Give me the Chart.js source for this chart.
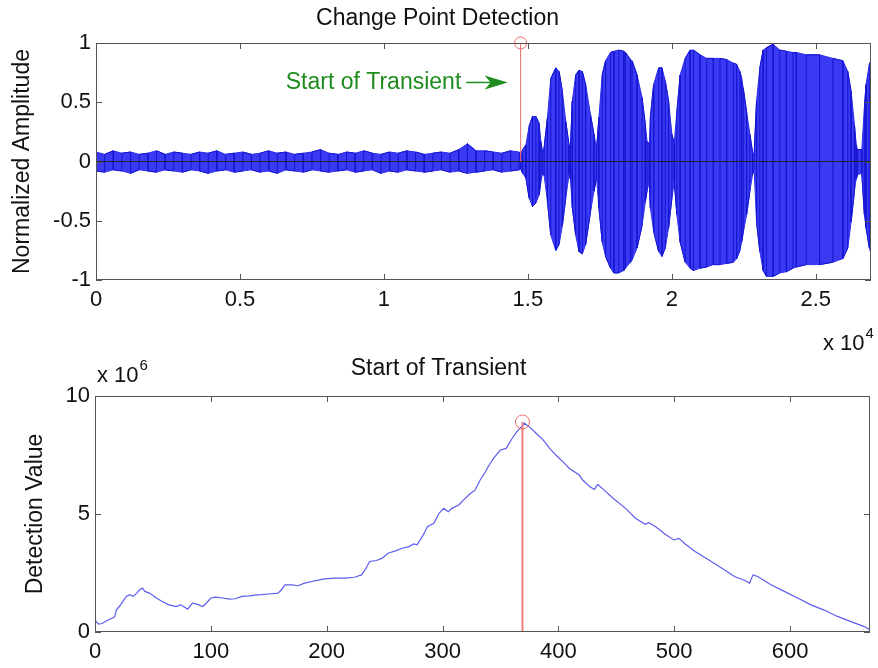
<!DOCTYPE html>
<html>
<head>
<meta charset="utf-8">
<script src="https://cdn.jsdelivr.net/npm/chart.js@4.4.1/dist/chart.umd.min.js"></script>
<style>
  html, body { margin: 0; padding: 0; background: #fff; }
  #wrap { position: relative; width: 878px; height: 668px; overflow: hidden; }
  canvas { position: absolute; left: 0; }
  #top { top: 0; }
  #bottom { top: 350px; }
</style>
</head>
<body>
<div id="wrap">
  <canvas id="top" width="878" height="360" style="width:878px;height:360px"></canvas>
  <canvas id="bottom" width="878" height="318" style="width:878px;height:318px"></canvas>
</div>
<script>
const FONT = '"Liberation Sans", Arial, Helvetica, sans-serif';

// top plot: signal envelope (sample index, upper and lower amplitude)
const sigX = [0, 300, 600, 900, 1200, 1500, 1800, 2100, 2400, 2700, 3000, 3300, 3600, 3900, 4200, 4500,
  4800, 5100, 5400, 5700, 6000, 6300, 6600, 6900, 7200, 7500, 7800, 8100, 8400, 8700, 9000, 9300, 9600,
  9900, 10200, 10500, 10800, 11100, 11400, 11700, 12000, 12300, 12600, 12900, 13200, 13500, 13800, 14100,
  14400, 14700, 14750, 14818, 14933, 15048, 15163, 15279, 15394, 15451, 15509, 15567, 15682, 15797, 15970,
  16085, 16200, 16316, 16431, 16480, 16546, 16662, 16777, 16892, 17007, 17180, 17296, 17388, 17469, 17584,
  17699, 17872, 17987, 18160, 18333, 18391, 18564, 18621, 18794, 18967, 19082, 19140, 19221, 19255, 19371,
  19544, 19659, 19774, 19889, 20004, 20085, 20177, 20292, 20465, 20638, 20754, 20984, 21215, 21445, 21676,
  21906, 22137, 22252, 22367, 22425, 22483, 22598, 22713, 22805, 22860, 22944, 23059, 23174, 23290, 23520,
  23751, 23981, 24212, 24327, 24671, 25134, 25595, 25941, 26114, 26229, 26345, 26402, 26460, 26600, 26690,
  26748, 26863, 26920];
const sigHi = [0.08, 0.06, 0.09, 0.07, 0.08, 0.06, 0.07, 0.09, 0.06, 0.08, 0.07, 0.06, 0.08, 0.07, 0.09, 0.06,
  0.07, 0.08, 0.06, 0.07, 0.09, 0.07, 0.08, 0.06, 0.07, 0.08, 0.10, 0.07, 0.06, 0.08, 0.07, 0.09, 0.07,
  0.06, 0.08, 0.07, 0.09, 0.08, 0.06, 0.07, 0.08, 0.07, 0.10, 0.15, 0.09, 0.09, 0.08, 0.07,
  0.09, 0.08, 0.06, 0.10, 0.14, 0.30, 0.38, 0.38, 0.32, 0.17, 0.08, 0.12, 0.37, 0.70, 0.79,
  0.76, 0.59, 0.34, 0.14, 0.12, 0.51, 0.73, 0.77, 0.76, 0.65, 0.39, 0.23, 0.11, 0.37, 0.73,
  0.85, 0.92, 0.93, 0.94, 0.93, 0.92, 0.86, 0.85, 0.73, 0.54, 0.31, 0.17, 0.15, 0.37, 0.65,
  0.79, 0.79, 0.68, 0.51, 0.23, 0.15, 0.42, 0.73, 0.87, 0.94, 0.94, 0.90, 0.87, 0.87, 0.87,
  0.86, 0.83, 0.82, 0.76, 0.70, 0.62, 0.42, 0.23, 0.08, 0.05, 0.51, 0.79, 0.94, 0.96, 0.99,
  0.94, 0.93, 0.92, 0.92, 0.90, 0.90, 0.87, 0.85, 0.76, 0.59, 0.31, 0.14, 0.10, 0.10, 0.45,
  0.65, 0.82, 0.85];
const sigLo = [-0.08, -0.09, -0.07, -0.08, -0.10, -0.07, -0.08, -0.09, -0.07, -0.08, -0.09, -0.07, -0.08, -0.10, -0.08, -0.07,
  -0.09, -0.08, -0.07, -0.09, -0.08, -0.10, -0.07, -0.08, -0.09, -0.07, -0.08, -0.09, -0.08, -0.07, -0.09, -0.08, -0.07,
  -0.10, -0.08, -0.09, -0.07, -0.08, -0.09, -0.08, -0.07, -0.09, -0.08, -0.10, -0.09, -0.08, -0.07, -0.09,
  -0.08, -0.07, -0.06, -0.10, -0.14, -0.31, -0.38, -0.35, -0.28, -0.17, -0.10, -0.12, -0.34, -0.62, -0.75,
  -0.70, -0.54, -0.31, -0.11, -0.15, -0.39, -0.62, -0.76, -0.78, -0.70, -0.42, -0.25, -0.14, -0.39, -0.68,
  -0.80, -0.90, -0.94, -0.94, -0.92, -0.90, -0.85, -0.83, -0.73, -0.54, -0.34, -0.25, -0.17, -0.39, -0.59,
  -0.76, -0.80, -0.73, -0.56, -0.31, -0.17, -0.45, -0.68, -0.85, -0.90, -0.92, -0.90, -0.89, -0.87, -0.87,
  -0.86, -0.85, -0.82, -0.75, -0.68, -0.60, -0.45, -0.25, -0.11, -0.06, -0.51, -0.76, -0.92, -0.97, -0.97,
  -0.94, -0.93, -0.90, -0.89, -0.87, -0.87, -0.85, -0.82, -0.73, -0.51, -0.25, -0.15, -0.11, -0.10, -0.45,
  -0.56, -0.73, -0.78];
const sigMaxX = 26920;
const changeX = 14750;
const changeY = 1;
const topXTicks = [0, 5000, 10000, 15000, 20000, 25000];
const topXLabels = ['0', '0.5', '1', '1.5', '2', '2.5'];
const topYTicks = [-1, -0.5, 0, 0.5, 1];
const topYLabels = ['-1', '-0.5', '0', '0.5', '1'];

// annotation on the top plot
const noteText = 'Start of Transient';
const noteX = 6590;
const noteY = 0.667;
const arrowFrom = 12860;
const arrowTo = 14300;

// bottom plot: detection value (x 10^6) per window
const detX = [0, 3, 6, 11, 15, 17, 18.5, 21, 24, 27, 30, 33, 36, 38.5, 41, 43, 47, 53, 58, 64, 70, 74, 80,
  84, 88, 93, 96, 100, 104, 110, 116, 121, 127, 133, 138, 144, 150, 158, 161, 164, 170, 175, 181, 187, 193,
  198, 207, 215, 224, 230, 234, 237, 243, 248, 253, 260, 265, 271, 275, 278, 282.5, 287, 292.5, 297, 301,
  305, 308, 314, 318, 324, 328, 332.5, 337, 341, 345, 350, 355, 360, 364, 368, 370.5, 375, 381, 387, 392.5,
  398, 404, 409.5, 418, 421, 427, 431, 434, 439.5, 446.5, 458, 466.5, 475, 478, 484, 492, 499.5, 504, 509.5,
  518, 532, 543.5, 552, 561, 565, 568, 572, 583.5, 595, 606.5, 618, 629, 641, 652, 663.5, 669];
const detY = [0.50, 0.33, 0.36, 0.50, 0.59, 0.64, 0.94, 1.08, 1.29, 1.51, 1.58, 1.51, 1.65, 1.79, 1.86, 1.72,
  1.65, 1.44, 1.29, 1.15, 1.08, 1.15, 0.97, 1.22, 1.18, 1.08, 1.22, 1.44, 1.48, 1.44, 1.39, 1.41, 1.51, 1.53,
  1.56, 1.58, 1.61, 1.65, 1.79, 2.00, 2.00, 1.96, 2.07, 2.14, 2.20, 2.25, 2.28, 2.28, 2.32, 2.42, 2.70, 2.99,
  3.03, 3.13, 3.34, 3.45, 3.55, 3.62, 3.73, 3.69, 4.04, 4.46, 4.61, 5.03, 5.24, 5.10, 5.24, 5.38, 5.59, 5.87,
  6.01, 6.44, 6.79, 7.14, 7.42, 7.71, 7.78, 8.20, 8.48, 8.69, 8.85, 8.69, 8.41, 8.13, 7.78, 7.49, 7.21, 6.93,
  6.65, 6.44, 6.16, 6.04, 6.25, 6.01, 5.70, 5.24, 4.82, 4.56, 4.63, 4.46, 4.15, 3.90, 3.97, 3.73, 3.41, 2.99,
  2.63, 2.35, 2.18, 2.07, 2.42, 2.35, 2.00, 1.72, 1.44, 1.15, 0.94, 0.66, 0.45, 0.24, 0.10];
const detMaxX = 669;
const peakX = 369;
const peakY = 8.9;
const botXTicks = [0, 100, 200, 300, 400, 500, 600];
const botYTicks = [0, 5, 10];

Chart.defaults.font.family = FONT;
Chart.defaults.color = '#111';

// frame and inward tick marks, matlab style
const frameTicks = {
  id: 'frameTicks',
  afterDatasetsDraw(chart) {
    const { ctx, chartArea: a, scales: { x, y } } = chart;
    ctx.save();
    ctx.strokeStyle = '#555';
    ctx.lineWidth = 1;
    ctx.strokeRect(a.left + 0.5, a.top + 0.5, a.right - a.left - 1, a.bottom - a.top - 1);
    ctx.beginPath();
    x.ticks.forEach(t => {
      const px = Math.round(x.getPixelForValue(t.value)) + 0.5;
      ctx.moveTo(px, a.bottom); ctx.lineTo(px, a.bottom - 6);
      ctx.moveTo(px, a.top); ctx.lineTo(px, a.top + 6);
    });
    y.ticks.forEach(t => {
      const py = Math.round(y.getPixelForValue(t.value)) + 0.5;
      ctx.moveTo(a.left, py); ctx.lineTo(a.left + 6, py);
      ctx.moveTo(a.right, py); ctx.lineTo(a.right - 6, py);
    });
    ctx.stroke();
    ctx.restore();
  }
};

function expLabel(ctx, base, exp, x, y) {
  ctx.fillStyle = '#111';
  ctx.textAlign = 'left';
  ctx.textBaseline = 'middle';
  ctx.font = '22px ' + FONT;
  ctx.fillText(base, x, y);
  const w = ctx.measureText(base).width;
  ctx.font = '15px ' + FONT;
  ctx.fillText(exp, x + w + 1, y - 10);
}

const topNotes = {
  id: 'topNotes',
  afterDraw(chart) {
    const { ctx, chartArea: a, scales: { x, y } } = chart;
    ctx.save();
    const ty = y.getPixelForValue(noteY);
    ctx.fillStyle = '#1e8c1e';
    ctx.strokeStyle = '#1e8c1e';
    ctx.font = '23px ' + FONT;
    ctx.textAlign = 'left';
    ctx.textBaseline = 'middle';
    ctx.fillText(noteText, x.getPixelForValue(noteX), ty);
    const x0 = x.getPixelForValue(arrowFrom);
    const x1 = x.getPixelForValue(arrowTo);
    ctx.lineWidth = 1.5;
    ctx.beginPath();
    ctx.moveTo(x0, ty); ctx.lineTo(x1 - 16, ty);
    ctx.stroke();
    ctx.beginPath();
    ctx.moveTo(x1, ty);
    ctx.lineTo(x1 - 23, ty - 7);
    ctx.lineTo(x1 - 17, ty);
    ctx.lineTo(x1 - 23, ty + 7);
    ctx.closePath();
    ctx.fill();
    expLabel(ctx, 'x 10', '4', a.right - 48, 344);
    ctx.restore();
  }
};

const botNotes = {
  id: 'botNotes',
  afterDraw(chart) {
    const { ctx, chartArea: a } = chart;
    ctx.save();
    expLabel(ctx, 'x 10', '6', a.left + 2, a.top - 20);
    ctx.restore();
  }
};

const axisTitle = (text, pad) => ({
  display: true, text, color: '#111',
  font: { size: 23, family: FONT }, padding: { top: pad, bottom: 0 }
});

const tickFont = { size: 22, family: FONT };

// the dense waveform: a square trace that runs up and down the envelope
const sigTrace = [];
sigX.forEach((x, i) => {
  const a = i % 2 ? sigLo[i] : sigHi[i];
  const b = i % 2 ? sigHi[i] : sigLo[i];
  sigTrace.push({ x, y: a }, { x, y: b });
});

new Chart(document.getElementById('top'), {
  type: 'line',
  data: {
    datasets: [
      {
        data: [{ x: changeX, y: 0 }, { x: changeX, y: changeY }],
        borderColor: '#ee6a6a', borderWidth: 1,
        pointRadius: [0, 6], pointBorderColor: '#ee6a6a', pointBackgroundColor: 'rgba(0,0,0,0)',
        pointBorderWidth: 1, clip: false, order: 0
      },
      {
        data: [{ x: 0, y: 0 }, { x: sigMaxX, y: 0 }],
        borderColor: '#222', borderWidth: 1, pointRadius: 0, order: 1
      },
      {
        data: sigTrace,
        borderColor: '#1616d2', borderWidth: 1, pointRadius: 0, order: 2
      },
      {
        data: sigX.map((x, i) => ({ x, y: sigHi[i] })),
        borderColor: '#2a2aea', borderWidth: 1, pointRadius: 0,
        backgroundColor: '#3a3af2', fill: '+1', order: 3
      },
      {
        data: sigX.map((x, i) => ({ x, y: sigLo[i] })),
        borderColor: '#2a2aea', borderWidth: 1, pointRadius: 0, order: 4
      }
    ]
  },
  options: {
    responsive: false, animation: false, devicePixelRatio: 1,
    layout: { padding: { left: 0, right: 3, top: 0, bottom: 0 } },
    plugins: {
      legend: { display: false }, tooltip: { enabled: false },
      title: {
        display: true, text: 'Change Point Detection', color: '#111',
        font: { size: 23, weight: 'normal', family: FONT }, padding: { top: 5, bottom: 10.4 }
      }
    },
    scales: {
      x: {
        type: 'linear', min: 0, max: sigMaxX,
        grid: { display: false, drawTicks: false }, border: { display: false },
        afterBuildTicks: s => { s.ticks = topXTicks.map(v => ({ value: v })); },
        afterFit: s => { s.height = 80; },
        ticks: { font: tickFont, color: '#111', padding: 7, maxRotation: 0,
          callback: v => topXLabels[topXTicks.indexOf(v)] }
      },
      y: {
        min: -1, max: 1,
        grid: { display: false, drawTicks: false }, border: { display: false },
        afterBuildTicks: s => { s.ticks = topYTicks.map(v => ({ value: v })); },
        afterFit: s => { s.width = 96; },
        title: axisTitle('Normalized Amplitude', 9),
        ticks: { font: tickFont, color: '#111', padding: 5,
          callback: v => topYLabels[topYTicks.indexOf(v)] }
      }
    }
  },
  plugins: [frameTicks, topNotes]
});

new Chart(document.getElementById('bottom'), {
  type: 'line',
  data: {
    datasets: [
      {
        data: [{ x: peakX, y: 0 }, { x: peakX, y: peakY }],
        borderColor: '#f07f7f', borderWidth: 2,
        pointRadius: [0, 7], pointBorderColor: '#ee6a6a', pointBackgroundColor: 'rgba(0,0,0,0)',
        pointBorderWidth: 1, clip: false, order: 0
      },
      {
        data: detX.map((x, i) => ({ x, y: detY[i] })),
        borderColor: '#5c5cf0', borderWidth: 1.2, pointRadius: 0, tension: 0, order: 1
      }
    ]
  },
  options: {
    responsive: false, animation: false, devicePixelRatio: 1,
    layout: { padding: { left: 0, right: 1, top: 0, bottom: 0 } },
    plugins: {
      legend: { display: false }, tooltip: { enabled: false },
      title: {
        display: true, text: 'Start of Transient', color: '#111',
        font: { size: 23, weight: 'normal', family: FONT }, padding: { top: 4.7, bottom: 13.7 }
      }
    },
    scales: {
      x: {
        type: 'linear', min: 0, max: detMaxX,
        grid: { display: false, drawTicks: false }, border: { display: false },
        afterBuildTicks: s => { s.ticks = botXTicks.map(v => ({ value: v })); },
        afterFit: s => { s.height = 36; },
        ticks: { font: tickFont, color: '#111', padding: 7, maxRotation: 0 }
      },
      y: {
        min: 0, max: 10,
        grid: { display: false, drawTicks: false }, border: { display: false },
        afterBuildTicks: s => { s.ticks = botYTicks.map(v => ({ value: v })); },
        afterFit: s => { s.width = 95; },
        title: axisTitle('Detection Value', 22),
        ticks: { font: tickFont, color: '#111', padding: 5 }
      }
    }
  },
  plugins: [frameTicks, botNotes]
});
</script>
</body>
</html>
